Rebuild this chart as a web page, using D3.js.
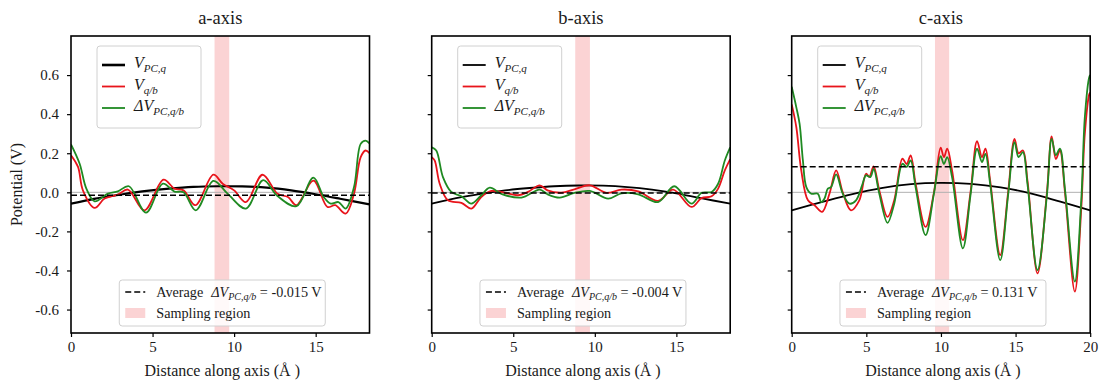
<!DOCTYPE html>
<html>
<head>
<meta charset="utf-8">
<script src="https://cdn.jsdelivr.net/npm/d3@7"></script>
<style>
  body { margin: 0; background: #fff; }
  svg text { font-family: "Liberation Serif", "Times New Roman", serif; fill: #1a1a1a; }
</style>
</head>
<body>
<svg id="chart" width="1102" height="385"></svg>
<script>
// ---------- data ----------
const panelTitles = ["a-axis", "b-axis", "c-axis"];
const averageValues = [-0.015, -0.004, 0.131];
const averageLabels = ["-0.015 V", "-0.004 V", "0.131 V"];
const samplingRegions = [[8.8, 9.7], [8.8, 9.7], [9.6, 10.55]];
const axisLengths = [18.3, 18.3, 20];
const xTicks = [[0, 5, 10, 15], [0, 5, 10, 15], [0, 5, 10, 15, 20]];
const yTicks = [-0.6, -0.4, -0.2, 0.0, 0.2, 0.4, 0.6];
const yTickLabels = ["-0.6", "-0.4", "-0.2", "0.0", "0.2", "0.4", "0.6"];

// a-axis
const aDistPC = [0, 1.5, 3, 4.5, 6, 7.5, 9, 10.5, 12, 13.5, 15, 16.5, 18.3];
const aPC = [-0.058, -0.032, -0.012, 0.006, 0.019, 0.028, 0.031, 0.030, 0.024, 0.010, -0.010, -0.033, -0.062];
const aDistQB = [0, 0.43, 0.73, 1.45, 2.06, 2.87, 3.49, 4.5, 5.67, 6.34, 6.9, 7.62, 8.73, 9.3, 10.0, 10.72, 11.74, 12.66, 13.3, 13.82, 14.86, 15.72, 16.2, 16.84, 17.35, 17.76, 18.06, 18.3];
const aQB = [0.19, 0.13, 0.01, -0.08, -0.032, -0.012, 0.014, -0.092, 0.065, 0.019, 0.01, -0.066, 0.09, 0.044, 0.01, -0.05, 0.09, -0.007, -0.024, -0.066, 0.06, -0.075, -0.066, -0.109, -0.007, 0.18, 0.214, 0.20];
const aDistDelta = [0, 0.53, 0.94, 1.45, 2.26, 2.87, 3.55, 4.6, 5.63, 6.34, 6.9, 7.65, 8.73, 9.6, 10.72, 11.78, 12.66, 13.82, 14.86, 15.5, 15.92, 16.4, 16.84, 17.35, 17.76, 18.06, 18.3];
const aDelta = [0.245, 0.146, 0.019, -0.046, -0.007, 0.005, 0.031, -0.104, 0.044, 0.004, 0.0, -0.092, 0.058, -0.007, -0.083, 0.062, -0.019, -0.071, 0.075, -0.025, -0.058, -0.05, -0.083, 0.027, 0.248, 0.265, 0.25];

// b-axis
const bDistPC = [0, 1.5, 3, 4.5, 6, 7.5, 9, 10.5, 12, 13.5, 15, 16.5, 18.3];
const bPC = [-0.058, -0.030, -0.008, 0.010, 0.022, 0.031, 0.035, 0.034, 0.027, 0.014, -0.005, -0.030, -0.058];
const bDistQB = [0, 0.18, 0.49, 1.0, 1.82, 2.43, 3.04, 3.66, 4.5, 5.3, 5.9, 6.62, 7.1, 7.95, 8.75, 9.69, 10.71, 11.63, 12.66, 13.88, 14.8, 15.93, 16.54, 17.16, 17.56, 17.97, 18.3];
const bQB = [0.18, 0.163, 0.044, -0.041, -0.054, -0.083, -0.024, 0.007, -0.003, -0.015, 0.002, 0.036, 0.01, -0.002, 0.015, 0.036, -0.003, 0.014, 0.005, -0.044, 0.014, -0.075, -0.03, -0.02, 0.019, 0.112, 0.17];
const bDistDelta = [0, 0.28, 0.69, 1.2, 1.82, 2.43, 3.04, 3.56, 4.3, 5.5, 6.62, 7.1, 7.85, 8.75, 9.69, 10.82, 11.63, 12.66, 13.88, 14.87, 15.93, 16.54, 17.16, 17.56, 17.97, 18.3];
const bDelta = [0.23, 0.214, 0.078, 0.002, -0.02, -0.058, -0.015, 0.024, -0.009, -0.027, 0.014, -0.01, -0.027, -0.003, 0.007, -0.032, -0.005, -0.01, -0.05, 0.031, -0.058, -0.003, 0.002, 0.044, 0.163, 0.23];

// c-axis
const cDistPC = [0, 2, 4, 6, 8, 10, 12, 14, 16, 18, 20];
const cPC = [-0.092, -0.050, -0.010, 0.022, 0.042, 0.048, 0.043, 0.025, -0.005, -0.048, -0.092];
const cDistQB = [0, 0.31, 0.64, 1.09, 1.53, 2.04, 2.53, 2.98, 3.42, 3.97, 4.53, 4.98, 5.2, 5.49, 5.87, 6.42, 6.87, 7.42, 7.7, 7.97, 8.3, 8.97, 9.53, 9.98, 10.2, 10.42, 10.75, 11.47, 11.98, 12.42, 12.75, 12.98, 13.3, 13.97, 14.5, 14.93, 15.2, 15.49, 15.8, 16.47, 17.1, 17.42, 17.7, 17.97, 18.31, 18.97, 19.4, 19.64, 19.93, 20];
const cQB = [0.45, 0.333, 0.112, -0.041, -0.066, -0.1, -0.007, 0.112, 0.0, -0.092, -0.041, 0.095, 0.08, 0.133, 0.01, -0.126, -0.041, 0.172, 0.145, 0.189, 0.045, -0.177, 0.0, 0.228, 0.18, 0.223, 0.11, -0.245, 0.0, 0.262, 0.18, 0.223, 0.058, -0.321, 0.0, 0.274, 0.2, 0.214, 0.058, -0.415, 0.0, 0.286, 0.17, 0.214, 0.0, -0.508, -0.085, 0.3, 0.5, 0.51];
const cDistDelta = [0, 0.31, 0.53, 0.75, 0.98, 1.31, 1.75, 1.98, 2.2, 2.42, 2.64, 2.98, 3.42, 3.87, 4.31, 4.75, 4.98, 5.27, 5.49, 5.87, 6.42, 6.87, 7.42, 7.7, 7.97, 8.3, 8.97, 9.53, 9.98, 10.2, 10.42, 10.75, 11.47, 11.98, 12.42, 12.75, 12.98, 13.3, 13.97, 14.5, 14.93, 15.2, 15.49, 15.8, 16.47, 17.1, 17.42, 17.7, 17.97, 18.31, 18.97, 19.4, 19.64, 19.93, 20];
const cDelta = [0.54, 0.435, 0.35, 0.163, 0.027, -0.007, -0.007, -0.05, -0.032, 0.019, 0.027, 0.092, -0.007, -0.058, -0.041, 0.044, 0.087, 0.078, 0.12, -0.007, -0.156, -0.058, 0.146, 0.13, 0.163, 0.027, -0.219, -0.007, 0.185, 0.145, 0.18, 0.075, -0.287, -0.015, 0.223, 0.155, 0.197, 0.041, -0.347, -0.015, 0.257, 0.18, 0.206, 0.041, -0.398, -0.015, 0.274, 0.19, 0.223, 0.015, -0.457, -0.041, 0.384, 0.588, 0.60];

const zip = (xs, ys) => xs.map((x, i) => [x, ys[i]]);
const panelSeries = [
  { pc: zip(aDistPC, aPC), qb: zip(aDistQB, aQB), delta: zip(aDistDelta, aDelta) },
  { pc: zip(bDistPC, bPC), qb: zip(bDistQB, bQB), delta: zip(bDistDelta, bDelta) },
  { pc: zip(cDistPC, cPC), qb: zip(cDistQB, cQB), delta: zip(cDistDelta, cDelta) }
];

// ---------- layout ----------
const panelLefts = [71, 431.7, 791.7];
const plotTop = 36, plotW = 298.5, plotH = 297;
const yDomain = [-0.72, 0.8];
const colors = { pc: "#000000", qb: "#e8141b", delta: "#1f8a22", span: "#fbd3d4", zero: "#b0b0b0" };

const svg = d3.select("#chart");
const defs = svg.append("defs");

// legend label built from italic symbol + subscript
function mathLabel(textSel, symbol, sub, size, subSize) {
  textSel.append("tspan").attr("font-style", "italic").attr("font-size", size).text(symbol);
  textSel.append("tspan").attr("font-style", "italic").attr("font-size", subSize)
    .attr("dy", size * 0.25).text(sub);
}

panelSeries.forEach((series, i) => {
  const g = svg.append("g").attr("transform", `translate(${panelLefts[i]},${plotTop})`);
  const x = d3.scaleLinear().domain([0, axisLengths[i]]).range([0, plotW]);
  const y = d3.scaleLinear().domain(yDomain).range([plotH, 0]);

  defs.append("clipPath").attr("id", "clip" + i)
    .append("rect").attr("width", plotW).attr("height", plotH);
  const plot = g.append("g").attr("clip-path", `url(#clip${i})`);

  // sampling region
  plot.append("rect")
    .attr("x", x(samplingRegions[i][0]))
    .attr("width", x(samplingRegions[i][1]) - x(samplingRegions[i][0]))
    .attr("y", 0).attr("height", plotH)
    .attr("fill", colors.span);

  // zero reference
  plot.append("line")
    .attr("x1", 0).attr("x2", plotW)
    .attr("y1", y(0)).attr("y2", y(0))
    .attr("stroke", colors.zero).attr("stroke-width", 1);

  const line = d3.line()
    .x(d => x(d[0])).y(d => y(d[1]))
    .curve(d3.curveCatmullRom.alpha(0.5));

  plot.append("path").datum(series.pc).attr("d", line)
    .attr("fill", "none").attr("stroke", colors.pc).attr("stroke-width", i === 0 ? 2.2 : 1.8);
  plot.append("path").datum(series.qb).attr("d", line)
    .attr("fill", "none").attr("stroke", colors.qb).attr("stroke-width", 1.8);
  plot.append("path").datum(series.delta).attr("d", line)
    .attr("fill", "none").attr("stroke", colors.delta).attr("stroke-width", 1.8);

  // average of the potential difference
  plot.append("line")
    .attr("x1", 0).attr("x2", plotW)
    .attr("y1", y(averageValues[i])).attr("y2", y(averageValues[i]))
    .attr("stroke", "#000").attr("stroke-width", 1.5).attr("stroke-dasharray", "6,3");

  // axes
  const xAxis = d3.axisBottom(x).tickValues(xTicks[i]).tickFormat(d3.format("d"))
    .tickSize(4).tickPadding(4.5);
  const gx = g.append("g").attr("transform", `translate(0,${plotH})`).call(xAxis);
  const yAxis = d3.axisLeft(y).tickValues(yTicks)
    .tickFormat((d, k) => i === 0 ? yTickLabels[k] : "")
    .tickSize(4).tickPadding(8);
  const gy = g.append("g").call(yAxis);
  [gx, gy].forEach(ax => {
    ax.select(".domain").remove();
    ax.selectAll(".tick line").attr("stroke", "#000").attr("stroke-width", 1.2);
    ax.selectAll(".tick text").attr("font-family", "Liberation Serif").attr("font-size", 15).attr("fill", "#1a1a1a");
  });

  // frame
  g.append("rect").attr("width", plotW).attr("height", plotH)
    .attr("fill", "none").attr("stroke", "#000").attr("stroke-width", 1.6);

  // title
  g.append("text").attr("x", plotW / 2).attr("y", 24 - plotTop)
    .attr("text-anchor", "middle").attr("font-size", 18.5).text(panelTitles[i]);

  // x label
  g.append("text").attr("x", plotW / 2 + 2).attr("y", 376 - plotTop)
    .attr("text-anchor", "middle").attr("font-size", 16).text("Distance along axis (Å )");

  // upper legend
  const lg = g.append("g").attr("transform", "translate(26,10)");
  lg.append("rect").attr("width", 104).attr("height", 82).attr("rx", 3)
    .attr("fill", "#fff").attr("fill-opacity", 0.85).attr("stroke", "#d0d0d0");
  const entries = [
    { key: "pc", sym: "V", sub: "PC,q" },
    { key: "qb", sym: "V", sub: "q/b" },
    { key: "delta", sym: "ΔV", sub: "PC,q/b" }
  ];
  entries.forEach((e, k) => {
    const yy = 19 + k * 21.5;
    lg.append("line").attr("x1", 5).attr("x2", 28).attr("y1", yy).attr("y2", yy)
      .attr("stroke", colors[e.key])
      .attr("stroke-width", e.key === "pc" && i === 0 ? 2.6 : 1.8);
    const t = lg.append("text").attr("x", 37).attr("y", yy + 3);
    mathLabel(t, e.sym, e.sub, 16, 11);
  });

  // lower legend
  const bw = 206, bh = 46;
  const bl = g.append("g").attr("transform", `translate(${plotW / 2 + 2 - bw / 2},${plotH - 7 - bh})`);
  bl.append("rect").attr("width", bw).attr("height", bh).attr("rx", 3)
    .attr("fill", "#fff").attr("fill-opacity", 0.85).attr("stroke", "#d0d0d0");
  bl.append("line").attr("x1", 6).attr("x2", 26).attr("y1", 12).attr("y2", 12)
    .attr("stroke", "#000").attr("stroke-width", 1.5).attr("stroke-dasharray", "6,3");
  const avg = bl.append("text").attr("x", 37).attr("y", 16.5).attr("font-size", 14.2);
  avg.append("tspan").text("Average");
  avg.append("tspan").attr("x", 92).attr("font-style", "italic").text("ΔV");
  avg.append("tspan").attr("font-style", "italic").attr("font-size", 10).attr("dy", 3).text("PC,q/b");
  avg.append("tspan").attr("dy", -3).text(" = " + averageLabels[i]);
  bl.append("rect").attr("x", 6).attr("y", 28).attr("width", 20).attr("height", 10)
    .attr("fill", colors.span);
  bl.append("text").attr("x", 37).attr("y", 37.5).attr("font-size", 14.2).text("Sampling region");
});

// shared y label
svg.append("text")
  .attr("transform", `translate(22,${plotTop + plotH / 2}) rotate(-90)`)
  .attr("text-anchor", "middle").attr("font-size", 16).text("Potential (V)");
</script>
</body>
</html>
